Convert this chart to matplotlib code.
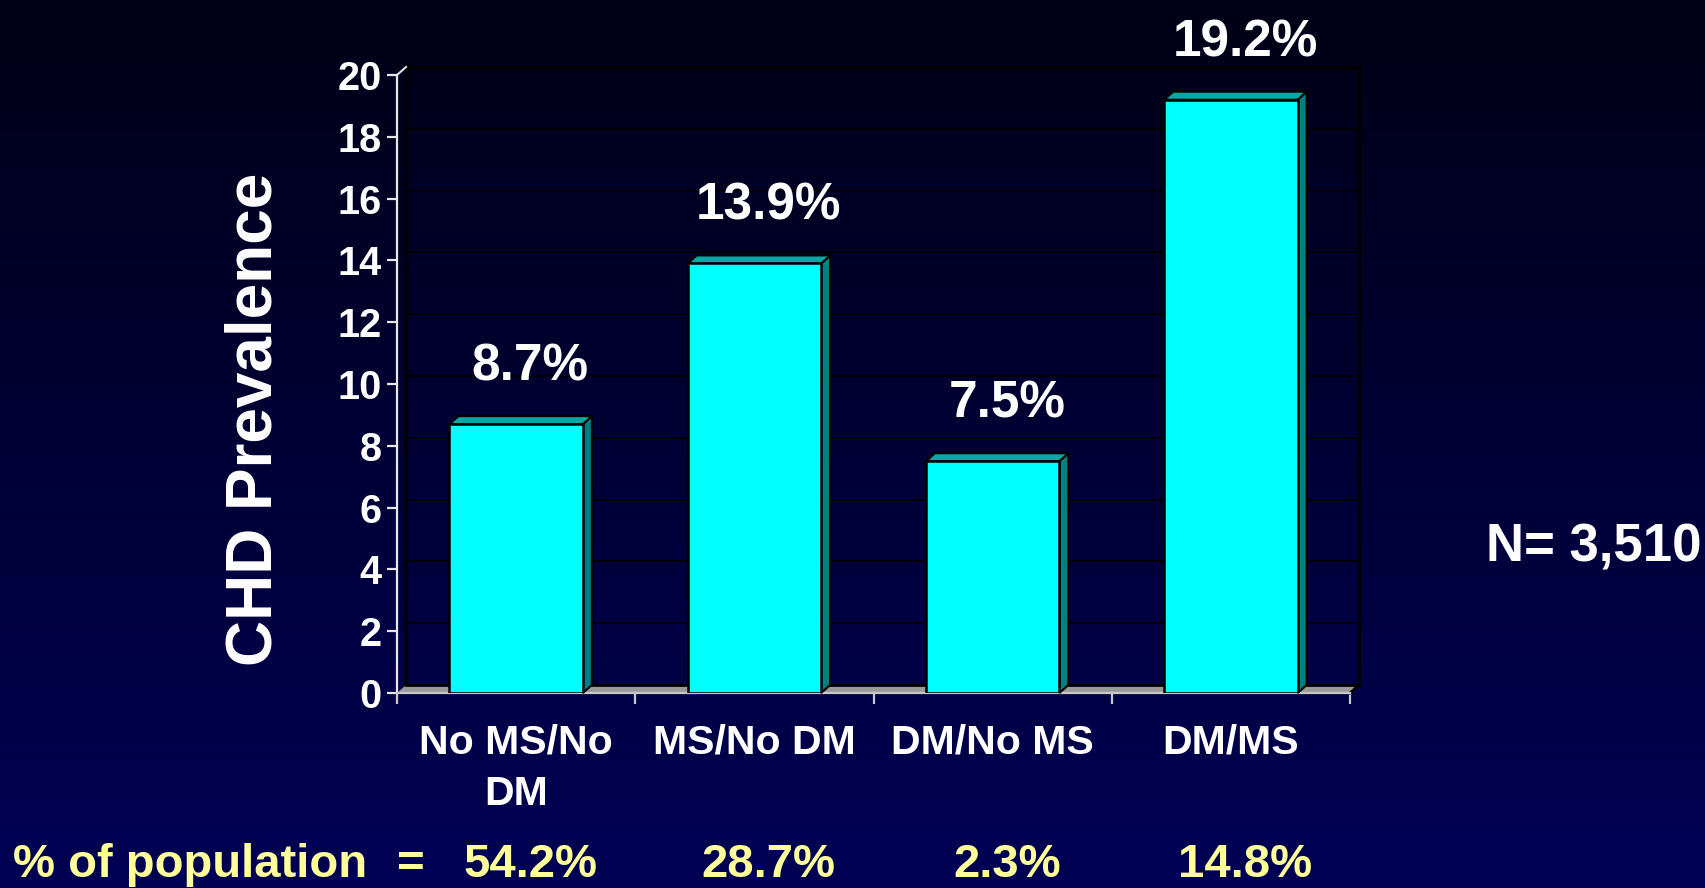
import numpy as np
import matplotlib
matplotlib.use("Agg")
import matplotlib.pyplot as plt
from matplotlib.patches import Polygon
from matplotlib.transforms import blended_transform_factory

categories = ["No MS/No\nDM", "MS/No DM", "DM/No MS", "DM/MS"]
prevalence = [8.7, 13.9, 7.5, 19.2]
value_labels = ["8.7%", "13.9%", "7.5%", "19.2%"]
population_share = ["54.2%", "28.7%", "2.3%", "14.8%"]
y_ticks = [0, 2, 4, 6, 8, 10, 12, 14, 16, 18, 20]
sample_size = "N= 3,510"

plt.rcParams['font.family'] = ['Liberation Sans', 'DejaVu Sans']
plt.rcParams['font.weight'] = 'bold'

W, H = 1705, 888
fig = plt.figure(figsize=(W / 100, H / 100), dpi=100)

# background gradient, dark navy at top to brighter navy at bottom
bg = fig.add_axes([0, 0, 1, 1], zorder=-10)
grad = np.linspace(0, 1, 256).reshape(-1, 1)
top = np.array([0, 0, 22]) / 255
bot = np.array([0, 0, 84]) / 255
img = top + (bot - top) * grad[:, :, None]
bg.imshow(img, aspect='auto', extent=[0, 1, 0, 1], origin='upper')
bg.axis('off')

# main axes placed in pixel terms
x0, x1, y0, y1 = 397, 1350, 693, 75
ax = fig.add_axes([x0 / W, 1 - y0 / H, (x1 - x0) / W, (y0 - y1) / H])
ax.patch.set_alpha(0)
ax.set_xlim(0, 4)
ax.set_ylim(0, 20)

# 3d depth in data units
DX, DY = 0.038, 0.26
bar_w = 0.56
xs = np.arange(len(categories)) + 0.5

# back wall and gridlines
for yv in y_ticks[1:-1]:
    ax.plot([DX, 4 + DX], [yv + DY, yv + DY], color='black', lw=1.3, zorder=1, clip_on=False)
ax.plot([DX, DX, 4 + DX, 4 + DX], [DY, 20 + DY, 20 + DY, DY], color='black', lw=2.5,
        zorder=1, clip_on=False)
# floor
floor = Polygon([(0, 0), (4, 0), (4 + DX, DY), (DX, DY)], closed=True,
                facecolor='#9a9a9a', edgecolor='none', zorder=2, clip_on=False)
ax.add_patch(floor)
ax.plot([DX, 4 + DX], [DY, DY], color='black', lw=2, zorder=2, clip_on=False)
ax.plot([4, 4 + DX], [0, DY], color='black', lw=2, zorder=2, clip_on=False)
ax.plot([0, DX], [20, 20 + DY], color='#e0e0e0', lw=1.5, zorder=2, clip_on=False)

# bars: front face plus side and top
ax.bar(xs, prevalence, width=bar_w, color='#00ffff', edgecolor='black', linewidth=1.8, zorder=4)
for x, v in zip(xs, prevalence):
    l, r = x - bar_w / 2, x + bar_w / 2
    side = Polygon([(r, 0), (r, v), (r + DX, v + DY), (r + DX, DY)], closed=True,
                   facecolor='#008080', edgecolor='black', lw=1.5, zorder=3, clip_on=False)
    topf = Polygon([(l, v), (r, v), (r + DX, v + DY), (l + DX, v + DY)], closed=True,
                   facecolor='#00a8a8', edgecolor='black', lw=1.5, zorder=3, clip_on=False)
    ax.add_patch(side)
    ax.add_patch(topf)

for x, v, lab in zip(xs, prevalence, value_labels):
    ax.text(x + 0.06, v + 1.85, lab, ha='center', va='center', color='white',
            fontsize=37, fontweight='bold', clip_on=False)

# axes styling
for s in ['top', 'right']:
    ax.spines[s].set_visible(False)
ax.spines['left'].set_color('#e8e8e8')
ax.spines['left'].set_linewidth(1.6)
ax.spines['bottom'].set_color('#c8c8c8')
ax.spines['bottom'].set_linewidth(1.6)
ax.set_yticks(y_ticks)
ax.tick_params(axis='y', colors='#e8e8e8', length=7, width=1.6, pad=4,
               labelsize=28.5, labelcolor='white')
ax.set_xticks([0, 1, 2, 3, 4])
ax.set_xticklabels([])
ax.tick_params(axis='x', which='major', colors='#c8c8c8', length=8, width=1.6)
ax.set_xticks(xs, minor=True)
ax.set_xticklabels(categories, minor=True)
ax.tick_params(axis='x', which='minor', length=0, pad=22, labelsize=29.5,
               labelcolor='white')
for t in ax.get_xticklabels(minor=True):
    t.set_linespacing(1.45)
    t.set_fontweight('bold')
for t in ax.get_yticklabels():
    t.set_fontweight('bold')

fig.text(254 / W, 1 - 419 / H, "CHD Prevalence", rotation=90, ha='center', va='center',
         color='white', fontsize=46, fontweight='bold')

fig.text(1486 / W, 1 - 547 / H, sample_size, ha='left', va='center', color='white',
         fontsize=38, fontweight='bold')

# population share row
yellow = '#ffff99'
row_y = 1 - 865 / H
fig.text(13 / W, row_y, "% of population", ha='left', va='center', color=yellow,
         fontsize=34, fontweight='bold')
fig.text(411 / W, row_y, "=", ha='center', va='center', color=yellow,
         fontsize=34, fontweight='bold')
trans = blended_transform_factory(ax.transData, fig.transFigure)
for x, p in zip(xs, population_share):
    ax.text(x + 0.06, row_y, p, transform=trans, ha='center', va='center',
            color=yellow, fontsize=34, fontweight='bold', clip_on=False)

fig.savefig("out.png", dpi=100)
